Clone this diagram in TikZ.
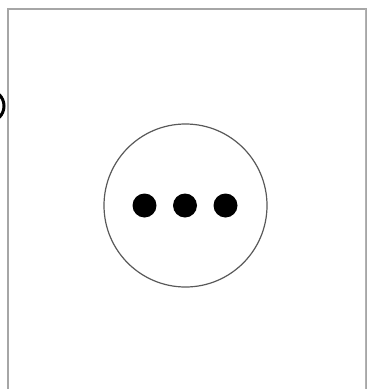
\documentclass[tikz,border=0pt]{standalone}
\begin{document}
\begin{tikzpicture}[x=1pt,y=-1pt,
  frame/.style={draw=black!35,line width=2pt},
  dot/.style={circle,fill=black,inner sep=0pt,minimum size=24pt}]
\useasboundingbox (0,0) rectangle (367,389);
\clip (0,0) rectangle (367,389);
\draw[frame] (8,400) -- (8,9) -- (365.5,9) -- (365.5,400);
\draw[draw=black!30,line width=1pt] (365.5,9) -- (365.5,400);
\draw[line width=3pt] (-12,106) circle[radius=16];
\node[circle,draw=black!65,line width=1.2pt,minimum size=163pt,inner sep=0pt] (c) at (185.5,205.5) {};
\node[dot] (d1) at (144.5,205.5) {};
\node[dot] (d2) at (185,205.5) {};
\node[dot] (d3) at (225.5,205.5) {};
\end{tikzpicture}
\end{document}
